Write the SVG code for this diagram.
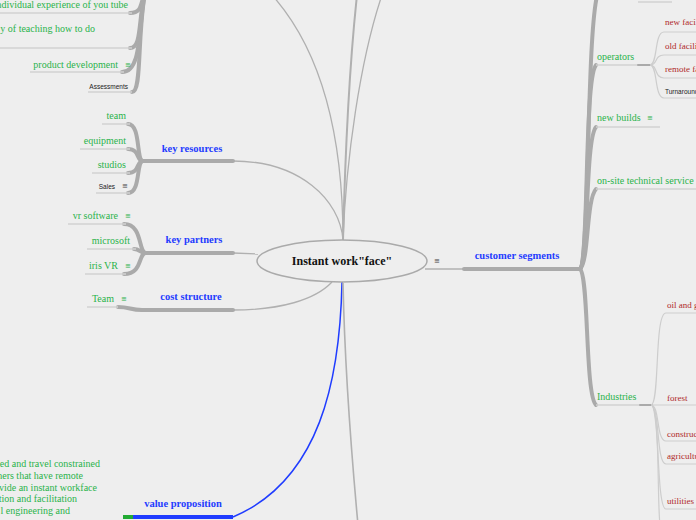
<svg xmlns="http://www.w3.org/2000/svg" width="696" height="520" viewBox="0 0 696 520">
<style>
.thick{fill:none;stroke:#aaaaaa;stroke-width:4;stroke-linecap:round}
.thin{fill:none;stroke:#b0b0b0;stroke-width:1.3}
.sub{fill:none;stroke:#cdcdcd;stroke-width:1.2}
.ul{fill:none;stroke:#d2d2d2;stroke-width:1.5}
.g{font-family:"Liberation Serif",serif;font-size:10px;fill:#2ab34b}
.r{font-family:"Liberation Serif",serif;font-size:9px;fill:#b02a2a}
.b{font-family:"Liberation Serif",serif;font-size:10.5px;font-weight:bold;fill:#1f3cff;text-anchor:middle}
.k{font-family:"Liberation Sans",sans-serif;font-size:6.5px;fill:#222222}
.m{font-family:"DejaVu Sans",sans-serif;font-size:7px;fill:#2ab34b}
.mk{font-family:"DejaVu Sans",sans-serif;font-size:7px;fill:#444444}
</style>
<rect width="696" height="520" fill="#eeeeee"/>
<g id="connectors">
  <path class="thin" d="M343,240 C343,160 330,60 272,-5"/>
  <path class="thin" d="M343,240 C345,160 350,60 357,-5" style="stroke-width:2"/>
  <path class="thin" d="M343,240 C346,160 360,60 382,-5"/>
  <path class="thin" d="M233,161 C300,161 340,200 343,240"/>
  <path class="thin" d="M233,253 L258,254"/>
  <path class="thin" d="M233,310 C280,310 315,300 332,282"/>
  <path fill="none" stroke="#1f3cff" stroke-width="1.5" d="M342,282 C340,380 320,480 233,517"/>
  <path class="thin" d="M343,283 C345,380 352,460 358,525" style="stroke-width:1.6"/>
  <path class="thin" d="M425,269 L464,269"/>
  <path class="thick" d="M464,269 L580,269"/>
  <path class="thick" d="M580,269 C590,262 586,30 598,-8"/>
  <path class="thick" d="M580,269 C589,262 584,80 596,65"/>
  <path class="thick" d="M580,269 C589,262 585,140 596,127"/>
  <path class="thick" d="M580,269 C589,262 586,200 596,189"/>
  <path class="thick" d="M580,269 C589,276 585,395 596,405"/>
  <path class="ul" d="M638,2 L672,2"/>
  <path class="ul" d="M596,65 L650,65"/>
  <path class="thick" d="M638,65 L650,65" style="stroke-width:2"/>
  <path class="ul" d="M596,127 L660,127"/>
  <path class="ul" d="M596,189 L696,189"/>
  <path class="ul" d="M596,405 L650,405"/>
  <path class="thick" d="M640,405 L652,405" style="stroke-width:2"/>
  <path class="sub" d="M650,65 C658,65 654,32 664,32 L696,32"/>
  <path class="sub" d="M650,65 C658,65 654,55 664,55 L696,55"/>
  <path class="sub" d="M650,65 C658,65 654,78 664,78 L696,78"/>
  <path class="sub" d="M650,65 C658,65 654,98 664,98 L696,98"/>
  <path class="sub" d="M651,405 C660,405 654,313 666,313 L696,313"/>
  <path class="sub" d="M651,405 L696,405"/>
  <path class="sub" d="M651,405 C660,405 656,441 666,441 L696,441"/>
  <path class="sub" d="M651,405 C660,405 656,464 666,464 L696,464"/>
  <path class="sub" d="M651,405 C660,405 656,509 666,509 L696,509"/>
  <path class="sub" d="M651,405 C660,405 657,500 660,525"/>
  <path class="thick" d="M145,-8 C140,5 142,13 130,13"/>
  <path class="thick" d="M145,-8 C138,20 142,48 130,48"/>
  <path class="thick" d="M145,-8 C138,30 142,72 122,72"/>
  <path class="thick" d="M145,-8 C137,40 142,92 132,92"/>
  <path class="ul" d="M0,13 L132,13"/>
  <path class="ul" d="M0,48 L132,48"/>
  <path class="ul" d="M30,72 L124,72"/>
  <path class="ul" d="M88,92 L132,92"/>
  <path class="thick" d="M143,161 L233,161"/>
  <path class="thick" d="M143,161 C136,161 141,124 128,124"/>
  <path class="thick" d="M143,161 C136,161 140,149 128,149"/>
  <path class="thick" d="M143,161 C136,161 140,173 128,173"/>
  <path class="thick" d="M143,161 C136,161 141,193 128,193"/>
  <path class="ul" d="M102,124 L130,124"/>
  <path class="ul" d="M80,149 L130,149"/>
  <path class="ul" d="M92,173 L130,173"/>
  <path class="ul" d="M96,193 L130,193"/>
  <path class="thick" d="M146,253 L233,253"/>
  <path class="thick" d="M146,253 C138,253 143,224 124,224"/>
  <path class="thick" d="M146,253 C140,253 140,249 134,249"/>
  <path class="thick" d="M146,253 C138,253 143,274 124,274"/>
  <path class="ul" d="M68,224 L126,224"/>
  <path class="ul" d="M87,249 L136,249"/>
  <path class="ul" d="M85,274 L126,274"/>
  <path class="thick" d="M142,310 L233,310"/>
  <path class="thick" d="M118,307 C130,307 130,310 142,310"/>
  <path class="ul" d="M87,307 L118,307"/>
  <path fill="none" stroke="#1f3cff" stroke-width="4" d="M133,517 L233,517"/>
  <path fill="none" stroke="#22aa33" stroke-width="4" d="M123,517 L133,517"/>
</g>
<g id="root">
  <ellipse cx="342" cy="261" rx="85" ry="21" fill="#eeeeee" stroke="#aaaaaa" stroke-width="1.5"/>
  <text x="342" y="265" text-anchor="middle" style="font-family:'Liberation Serif',serif;font-size:12px;font-weight:bold;fill:#111">Instant work"face"</text>
  <text class="mk" x="434" y="263">≡</text>
</g>
<g id="customer-segments"><text class="b" x="517" y="259">customer segments</text></g>
<g id="operators"><text class="g" x="597" y="60">operators</text></g>
<g id="new-facilities"><text class="r" x="665" y="25">new facilities</text></g>
<g id="old-facilities"><text class="r" x="665" y="49">old facilities</text></g>
<g id="remote-facilities"><text class="r" x="665" y="72">remote facilities</text></g>
<g id="turnaround"><text class="k" x="665" y="94">Turnarounds</text></g>
<g id="new-builds"><text class="g" x="597" y="121">new builds</text><text class="m" x="647" y="120">≡</text></g>
<g id="on-site"><text class="g" x="597" y="184">on-site technical service</text></g>
<g id="industries"><text class="g" x="597" y="400">Industries</text></g>
<g id="oil"><text class="r" x="667" y="308">oil and gas</text></g>
<g id="forest"><text class="r" x="667" y="401">forest</text></g>
<g id="construction"><text class="r" x="667" y="437">construction</text></g>
<g id="agriculture"><text class="r" x="667" y="459">agriculture</text></g>
<g id="utilities"><text class="r" x="667" y="504">utilities</text></g>
<g id="youtube"><text class="g" x="128" y="8" text-anchor="end">ndividual experience of you tube</text></g>
<g id="teaching"><text class="g" x="95" y="32" text-anchor="end">y of teaching how to do</text></g>
<g id="product-development"><text class="g" x="118" y="68" text-anchor="end">product development</text><text class="m" x="125" y="67">≡</text></g>
<g id="assessments"><text class="k" x="128" y="89" text-anchor="end">Assessments</text></g>
<g id="key-resources"><text class="b" x="192" y="152">key resources</text></g>
<g id="team"><text class="g" x="126" y="119" text-anchor="end">team</text></g>
<g id="equipment"><text class="g" x="126" y="144" text-anchor="end">equipment</text></g>
<g id="studios"><text class="g" x="126" y="168" text-anchor="end">studios</text></g>
<g id="sales"><text class="k" x="115" y="189" text-anchor="end">Sales</text><text class="mk" x="122" y="188">≡</text></g>
<g id="key-partners"><text class="b" x="194" y="243">key partners</text></g>
<g id="vr-software"><text class="g" x="118" y="219" text-anchor="end">vr software</text><text class="m" x="125" y="218">≡</text></g>
<g id="microsoft"><text class="g" x="130" y="244" text-anchor="end">microsoft</text></g>
<g id="iris-vr"><text class="g" x="118" y="269" text-anchor="end">iris VR</text><text class="m" x="125" y="268">≡</text></g>
<g id="cost-structure"><text class="b" x="191" y="300">cost structure</text></g>
<g id="team-cost"><text class="g" x="114" y="302" text-anchor="end">Team</text><text class="m" x="121" y="301">≡</text></g>
<g id="value-proposition"><text class="b" x="183" y="507">value proposition</text></g>
<g id="vp-text">
  <text class="g" x="100" y="467" text-anchor="end">ed and travel constrained</text>
  <text class="g" x="83" y="479" text-anchor="end">ners that have remote</text>
  <text class="g" x="97" y="491" text-anchor="end">vide an instant workface</text>
  <text class="g" x="77" y="502" text-anchor="end">tion and facilitation</text>
  <text class="g" x="70" y="514" text-anchor="end">l engineering and</text>
</g>
</svg>
